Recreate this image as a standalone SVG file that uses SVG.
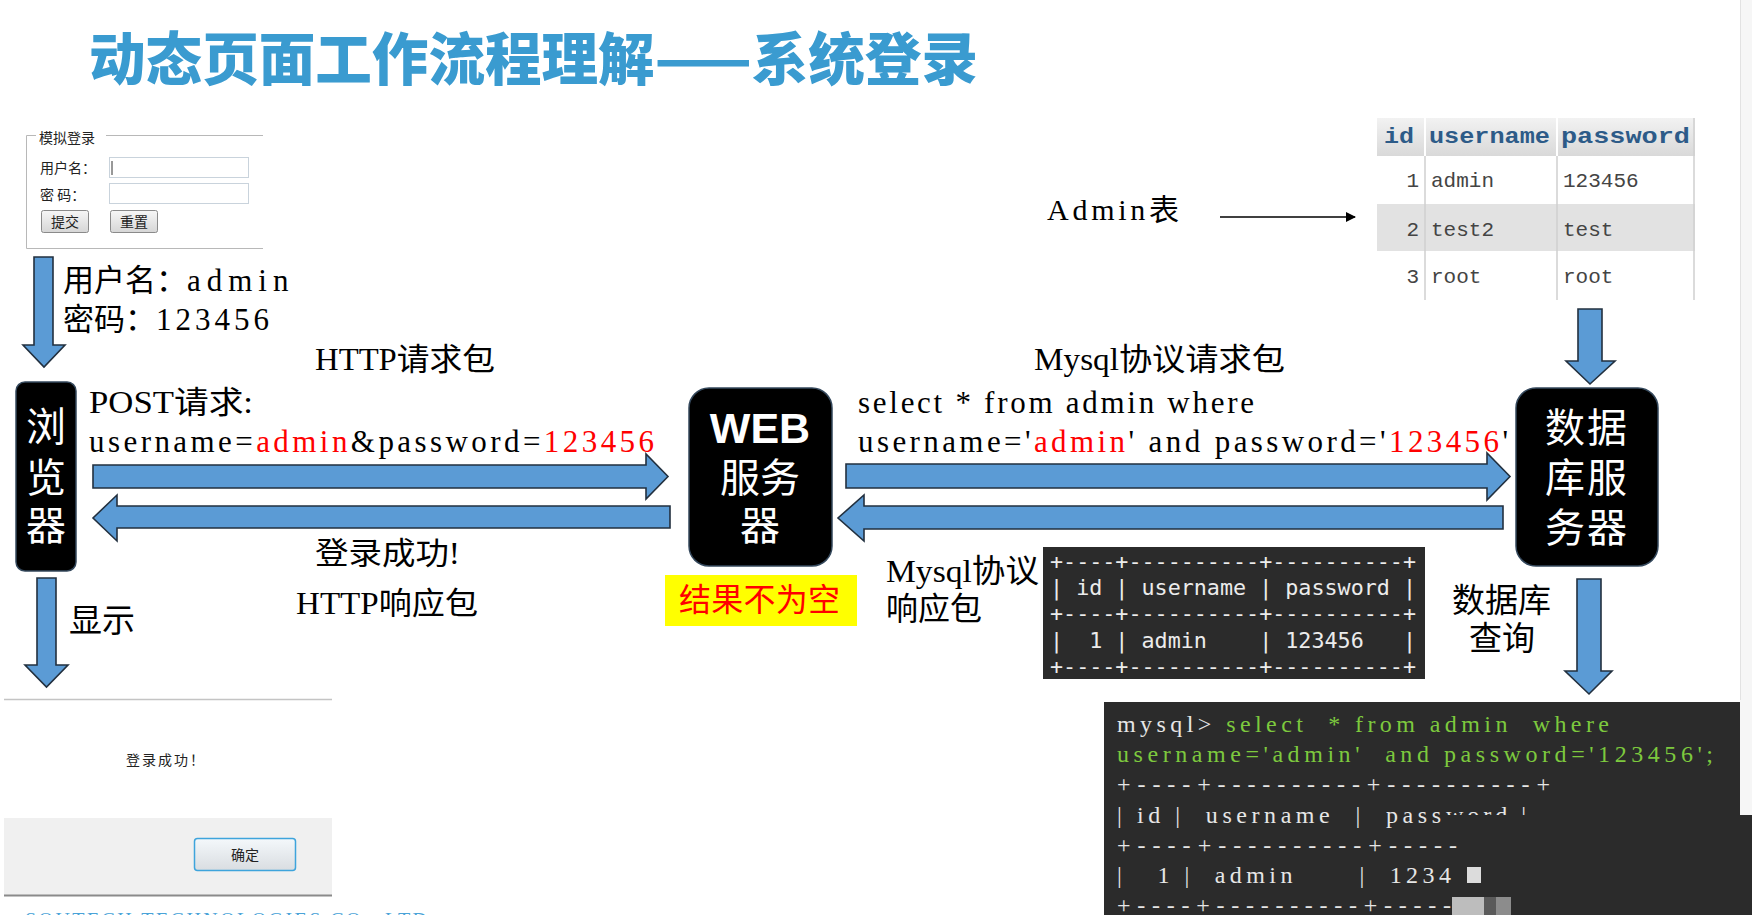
<svg xmlns="http://www.w3.org/2000/svg" width="1752" height="915" viewBox="0 0 1752 915">
<defs>
<style>
.cjk{font-family:"Noto Sans CJK SC","Noto Sans",sans-serif;}
.mix{font-family:"Liberation Serif","Noto Sans CJK SC",serif;fill:#000;}
.red{fill:#ff0000;}
.arrow{fill:#5b9bd5;stroke:#22303f;stroke-width:1.6;stroke-linejoin:miter;}
.node{fill:#000;stroke:#34485c;stroke-width:1.5;}
.nodetxt{font-family:"Noto Sans CJK SC",sans-serif;fill:#fff;font-size:40px;text-anchor:middle;}
.small{font-family:"Noto Sans CJK SC",sans-serif;font-size:14px;fill:#222;}
.btn{fill:url(#btnGrad);stroke:#8a8a8a;stroke-width:1;}
.term{font-family:"Liberation Serif",serif;font-size:24px;fill:#e6e6e6;}
.green{fill:#7dc93e;}
.mono{font-family:"DejaVu Sans Mono","Liberation Mono",monospace;font-size:21px;fill:#ececec;}
.th{font-family:"Liberation Mono",monospace;font-weight:bold;font-size:22px;fill:#2d5b88;}
.td{font-family:"Liberation Mono",monospace;font-size:21px;fill:#444;}
</style>
<linearGradient id="btnGrad" x1="0" y1="0" x2="0" y2="1">
<stop offset="0" stop-color="#f6f6f6"/><stop offset="1" stop-color="#d6d6d6"/>
</linearGradient>
<linearGradient id="hdrGrad" x1="0" y1="0" x2="0" y2="1">
<stop offset="0" stop-color="#f2f2f2"/><stop offset="1" stop-color="#d9d9d9"/>
</linearGradient>
<linearGradient id="okGrad" x1="0" y1="0" x2="0" y2="1">
<stop offset="0" stop-color="#f4f8fb"/><stop offset="1" stop-color="#d9dde1"/>
</linearGradient>
<marker id="tri" viewBox="0 0 10 10" refX="9" refY="5" markerWidth="10" markerHeight="10" markerUnits="userSpaceOnUse" orient="auto">
<path d="M0,0 L10,5 L0,10 Z" fill="#000"/>
</marker>
<clipPath id="halfClip"><rect x="1104" y="702" width="640" height="113"/></clipPath>
</defs>
<rect width="1752" height="915" fill="#fff"/>
<rect x="1740" y="0" width="12" height="815" fill="#f6f6f6"/>
<line x1="1740.5" y1="0" x2="1740.5" y2="700" stroke="#e2e2e2"/>

<!-- title -->
<text class="cjk" x="89" y="80" font-size="57" font-weight="900" fill="#3a9bd0" textLength="889" lengthAdjust="spacingAndGlyphs">动态页面工作流程理解——系统登录</text>

<!-- login form -->
<g id="node-login-form">
<path d="M36,135.5 H26.5 V248.5 H263 M106,135.5 H263" fill="none" stroke="#b8b8b8" stroke-width="1"/>
<text class="small" x="39" y="143">模拟登录</text>
<text class="small" x="40" y="173">用户名：</text>
<rect x="109.5" y="157.5" width="139" height="20" fill="#fff" stroke="#c9d3dc"/>
<line x1="112" y1="161" x2="112" y2="175" stroke="#333"/>
<text class="small" x="40" y="200">密 码：</text>
<rect x="109.5" y="183.5" width="139" height="20" fill="#fff" stroke="#c9d3dc"/>
<rect x="41.5" y="210.5" width="47" height="22" rx="2" class="btn"/>
<text class="small" x="65" y="227" text-anchor="middle" font-size="13">提交</text>
<rect x="110.5" y="210.5" width="47" height="22" rx="2" class="btn"/>
<text class="small" x="134" y="227" text-anchor="middle" font-size="13">重置</text>
</g>

<!-- labels left -->
<g id="labels-left">
<text class="mix" x="63" y="291" font-size="31">用户名：<tspan letter-spacing="6">admin</tspan></text>
<text class="mix" x="63" y="330" font-size="31">密码：<tspan letter-spacing="4">123456</tspan></text>
<text class="mix" x="315" y="370" font-size="31" textLength="180" lengthAdjust="spacingAndGlyphs">HTTP请求包</text>
<text class="mix" x="89" y="413" font-size="31" textLength="164" lengthAdjust="spacingAndGlyphs">POST请求:</text>
<text class="mix" x="89" y="452" font-size="31" textLength="565" lengthAdjust="spacing">username=<tspan class="red">admin</tspan>&amp;password=<tspan class="red">123456</tspan></text>
<text class="mix" x="315" y="564" font-size="31" textLength="145" lengthAdjust="spacingAndGlyphs">登录成功!</text>
<text class="mix" x="296" y="614" font-size="31" textLength="182" lengthAdjust="spacingAndGlyphs">HTTP响应包</text>
<text class="mix" x="69" y="632" font-size="33">显示</text>
</g>

<!-- browser node -->
<g id="node-browser">
<rect x="16" y="382" width="60" height="189" rx="9" class="node"/>
<text class="nodetxt"><tspan x="46" y="441">浏</tspan><tspan x="46" y="492">览</tspan><tspan x="46" y="540">器</tspan></text>
</g>

<!-- web node -->
<g id="node-web">
<rect x="689" y="388" width="143" height="178" rx="20" class="node"/>
<text class="nodetxt" font-size="42"><tspan x="760" y="443" font-family="Liberation Sans, sans-serif" font-weight="bold" font-size="43">WEB</tspan><tspan x="760" y="492">服务</tspan><tspan x="760" y="540">器</tspan></text>
</g>
<g id="node-result-label">
<rect x="665" y="575" width="192" height="51" fill="#ffff00"/>
<text x="679" y="611" font-family="Noto Sans CJK SC, sans-serif" font-size="32" fill="#ff0000" textLength="161" lengthAdjust="spacing">结果不为空</text>
</g>

<!-- db node -->
<g id="node-db">
<rect x="1516" y="388" width="142" height="178" rx="20" class="node"/>
<text class="nodetxt" font-size="42" letter-spacing="2"><tspan x="1587" y="442">数据</tspan><tspan x="1587" y="492">库服</tspan><tspan x="1587" y="542">务器</tspan></text>
</g>

<!-- labels right -->
<g id="labels-right">
<text class="mix" x="1034" y="370" font-size="31" textLength="251" lengthAdjust="spacingAndGlyphs">Mysql协议请求包</text>
<text class="mix" x="858" y="413" font-size="31" textLength="396" lengthAdjust="spacing">select * from admin where</text>
<text class="mix" x="858" y="452" font-size="31" textLength="650" lengthAdjust="spacing">username='<tspan class="red">admin</tspan>' and password='<tspan class="red">123456</tspan>'</text>
<text class="mix" x="1047" y="220" font-size="30" textLength="132" lengthAdjust="spacing">Admin表</text>
<text class="mix" x="886" y="582" font-size="32" textLength="153" lengthAdjust="spacingAndGlyphs">Mysql协议</text>
<text class="mix" x="886" y="620" font-size="32">响应包</text>
<text class="mix" x="1452" y="612" font-size="33">数据库</text>
<text class="mix" x="1469" y="650" font-size="33">查询</text>
</g>

<!-- admin table -->
<g id="node-admin-table">
<rect x="1377" y="118" width="318" height="38" fill="url(#hdrGrad)"/>
<rect x="1377" y="204" width="318" height="47" fill="#e2e2e2"/>
<line x1="1425" y1="118" x2="1425" y2="156" stroke="#fff" stroke-width="2"/>
<line x1="1557" y1="118" x2="1557" y2="156" stroke="#fff" stroke-width="2"/>
<line x1="1425" y1="156" x2="1425" y2="300" stroke="#cfcfcf" stroke-width="1.5"/>
<line x1="1557" y1="156" x2="1557" y2="300" stroke="#cfcfcf" stroke-width="1.5"/>
<line x1="1694" y1="118" x2="1694" y2="300" stroke="#cfcfcf" stroke-width="1.5"/>
<text class="th" x="1384" y="143" textLength="30" lengthAdjust="spacingAndGlyphs">id</text>
<text class="th" x="1429" y="143" textLength="121" lengthAdjust="spacingAndGlyphs">username</text>
<text class="th" x="1561" y="143" textLength="129" lengthAdjust="spacingAndGlyphs">password</text>
<text class="td" x="1419" y="187" text-anchor="end">1</text>
<text class="td" x="1431" y="187">admin</text>
<text class="td" x="1563" y="187">123456</text>
<text class="td" x="1419" y="236" text-anchor="end">2</text>
<text class="td" x="1431" y="236">test2</text>
<text class="td" x="1563" y="236">test</text>
<text class="td" x="1419" y="283" text-anchor="end">3</text>
<text class="td" x="1431" y="283">root</text>
<text class="td" x="1563" y="283">root</text>
</g>

<!-- small result terminal -->
<g id="node-result-table">
<rect x="1043" y="547" width="382" height="132" fill="#2b2b2b"/>
<text class="mono" xml:space="preserve" x="1050" y="569" textLength="366" lengthAdjust="spacingAndGlyphs">+----+----------+----------+</text>
<text class="mono" xml:space="preserve" x="1050" y="595" textLength="366" lengthAdjust="spacingAndGlyphs">| id | username | password |</text>
<text class="mono" xml:space="preserve" x="1050" y="621" textLength="366" lengthAdjust="spacingAndGlyphs">+----+----------+----------+</text>
<text class="mono" xml:space="preserve" x="1050" y="648" textLength="366" lengthAdjust="spacingAndGlyphs">|  1 | admin    | 123456   |</text>
<text class="mono" xml:space="preserve" x="1050" y="674" textLength="366" lengthAdjust="spacingAndGlyphs">+----+----------+----------+</text>
</g>

<!-- big terminal -->
<g id="node-terminal">
<rect x="1104" y="702" width="636" height="113" fill="#2b2b2b"/>
<rect x="1104" y="815" width="648" height="100" fill="#2b2b2b"/>
<text class="term" xml:space="preserve" x="1117" y="732" textLength="492" lengthAdjust="spacing">mysql&gt; <tspan class="green">select  * from admin  where</tspan></text>
<text class="term green" xml:space="preserve" x="1117" y="762" textLength="596" lengthAdjust="spacing">username='admin'  and password='123456';</text>
<text class="term" xml:space="preserve" x="1117" y="792" textLength="433" lengthAdjust="spacing">+----+----------+----------+</text>
<text class="term" xml:space="preserve" x="1117" y="823" textLength="324" lengthAdjust="spacing">| id |  username  |  pass</text>
<text class="term" xml:space="preserve" x="1446" y="823" clip-path="url(#halfClip)" textLength="80" lengthAdjust="spacing">word |</text>
<text class="term" xml:space="preserve" x="1117" y="853" textLength="340" lengthAdjust="spacing">+----+----------+-----</text>
<text class="term" xml:space="preserve" x="1117" y="883" textLength="334" lengthAdjust="spacing">|   1 |  admin      |  1234</text>
<rect x="1467" y="867" width="14" height="16" fill="#dcdcdc"/>
<text class="term" xml:space="preserve" x="1117" y="913" textLength="334" lengthAdjust="spacing">+----+----------+-----</text>
<rect x="1452" y="897" width="32" height="18" fill="#bdbdbd"/>
<rect x="1484" y="897" width="12" height="18" fill="#5a5a5a"/>
<rect x="1496" y="897" width="15" height="18" fill="#8c8c8c"/>
</g>

<!-- success dialog -->
<g id="node-dialog">
<line x1="4" y1="699.5" x2="332" y2="699.5" stroke="#c4c4c4" stroke-width="1.5"/>
<text class="small" x="126" y="765" font-size="15.5" textLength="78" lengthAdjust="spacing">登录成功！</text>
<rect x="4" y="818" width="328" height="77" fill="#f0f0f0"/>
<line x1="4" y1="895.5" x2="332" y2="895.5" stroke="#8a8a8a" stroke-width="2"/>
<rect x="194.5" y="838.5" width="101" height="32" rx="3" fill="url(#okGrad)" stroke="#3ea4dc" stroke-width="1.5"/>
<text class="small" x="245" y="860" text-anchor="middle" font-size="15">确定</text>
</g>
<text x="25" y="927" font-family="Liberation Serif, serif" font-size="20" fill="#4aa3d8" textLength="402" lengthAdjust="spacing">SOUTECH TECHNOLOGIES CO., LTD</text>

<!-- connectors -->
<g id="connectors">
<polygon class="arrow" points="34,257 53,257 53,345 65,345 44,367 23,345 34,345"/>
<polygon class="arrow" points="37,578 56,578 56,665 68,665 46.5,687 25,665 37,665"/>
<polygon class="arrow" points="93,465 646,465 646,454 668,476.5 646,499 646,488 93,488"/>
<polygon class="arrow" points="670,506 117,506 117,495 93,518 117,541 117,528 670,528"/>
<polygon class="arrow" points="846,464 1487,464 1487,453 1510,476.5 1487,500 1487,488 846,488"/>
<polygon class="arrow" points="1503,506 864,506 864,495 838,518 864,541 864,529 1503,529"/>
<polygon class="arrow" points="1578,309 1602,309 1602,361 1615,361 1590,384 1566,361 1578,361"/>
<polygon class="arrow" points="1577,579 1601,579 1601,671 1612,671 1589,694 1565,671 1577,671"/>
<line x1="1220" y1="217" x2="1355" y2="217" stroke="#000" stroke-width="1.5" marker-end="url(#tri)"/>
</g>
</svg>
